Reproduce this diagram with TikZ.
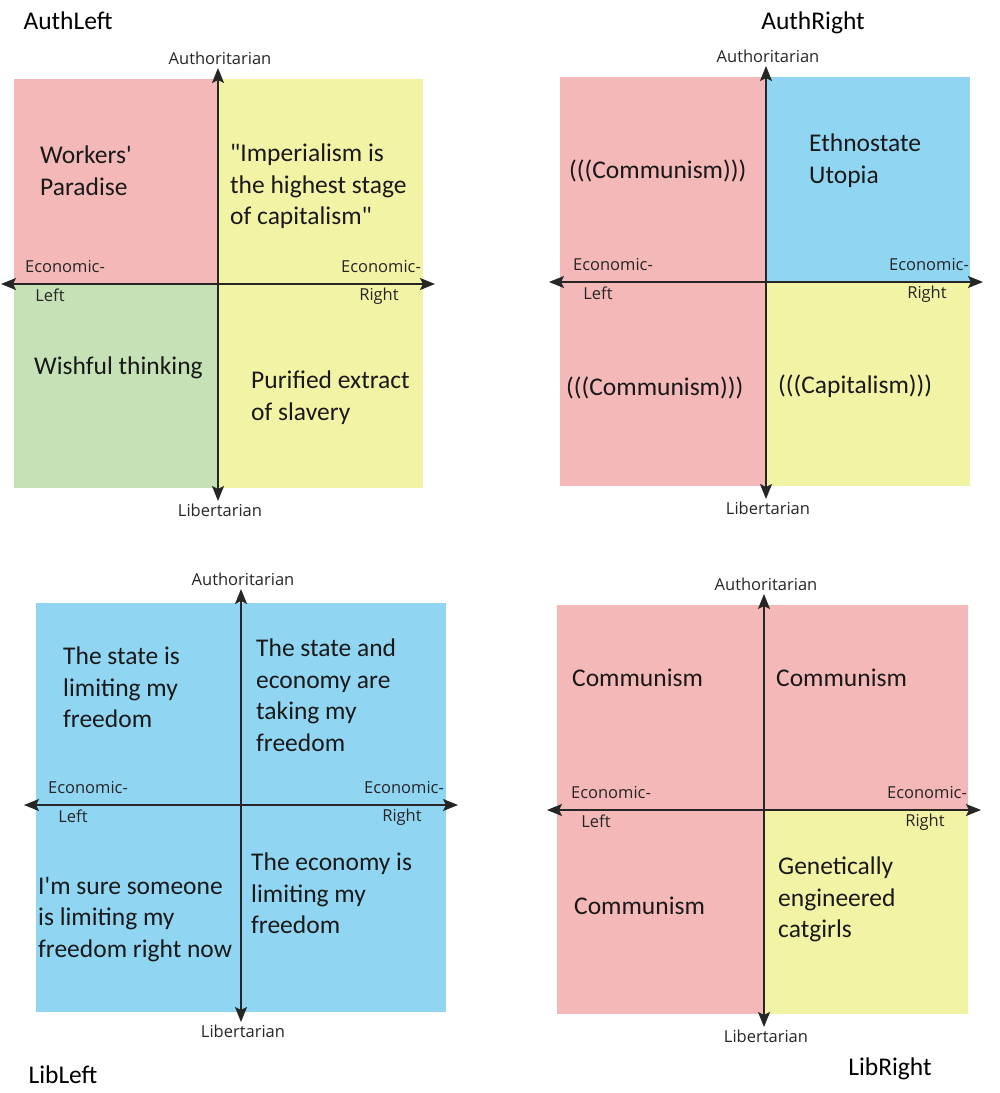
\documentclass[tikz,border=0pt]{standalone}
\usepackage{fontspec}
\setmainfont{Carlito}[Ligatures=TeXOff]
\newfontfamily\axisfont{Open Sans}
\usetikzlibrary{arrows.meta, positioning}
\definecolor{qred}{RGB}{245,184,184}
\definecolor{qyellow}{RGB}{243,243,166}
\definecolor{qgreen}{RGB}{199,225,183}
\definecolor{qblue}{RGB}{144,214,243}
\begin{document}
\begin{tikzpicture}[x=1pt, y=-1pt,
    axis/.style={draw=black!85, line width=1.5pt, {Stealth[length=15pt,width=12pt,inset=3pt]}-{Stealth[length=15pt,width=12pt,inset=3pt]}},
    axlabel/.style={font=\axisfont\fontsize{16.5}{20}\selectfont, text=black!85, inner sep=0pt},
    quadtext/.style={font=\fontsize{25.5}{31.5}\selectfont, align=left, anchor=north west, inner sep=0pt, text=black!90},
    title/.style={font=\fontsize{25.5}{30}\selectfont, inner sep=0pt}]
      \fill[white] (0,0) rectangle (1000,1093);
      \useasboundingbox (0,0) rectangle (1000,1093);

      % AuthLeft
      \fill[qred] (14,79) rectangle (218,284);
      \fill[qyellow] (218,79) rectangle (423,284);
      \fill[qgreen] (14,284) rectangle (218,488);
      \fill[qyellow] (218,284) rectangle (423,488);
      % AuthRight
      \fill[qred] (560,77) rectangle (766,486);
      \fill[qblue] (766,77) rectangle (970,282);
      \fill[qyellow] (766,282) rectangle (970,486);
      % LibLeft
      \fill[qblue] (36,603) rectangle (446,1012);
      % LibRight
      \fill[qred] (557,605) rectangle (968,1014);
      \fill[qyellow] (764,810) rectangle (968,1014);

      \foreach \i/\cx/\cy in {1/218/284, 2/766/282, 3/241/805, 4/764/810} {
        \coordinate (n\i) at (\cx,\cy-216);
        \coordinate (s\i) at (\cx,\cy+217);
        \coordinate (w\i) at (\cx-217,\cy);
        \coordinate (e\i) at (\cx+217,\cy);
        \draw[axis] (n\i) -- (s\i);
        \draw[axis] (w\i) -- (e\i);
        \node[axlabel] (auth\i) at (\cx+2,\cy-226) {Authoritarian};
        \node[axlabel] (lib\i) at (\cx+2,\cy+226) {Libertarian};
        \node[axlabel] (ecl\i) at (\cx-153,\cy-17) {Economic-};
        \node[axlabel] (left\i) at (\cx-168,\cy+11) {Left};
        \node[axlabel] (ecr\i) at (\cx+163,\cy-17) {Economic-};
        \node[axlabel] (right\i) at (\cx+161,\cy+12) {Right};
      }

      \node[title] (authleft) at (68,21) {AuthLeft};
      \node[title] (authright) at (813,23) {AuthRight};
      \node[title] (libleft) at (63,1075) {LibLeft};
      \node[title] (libright) at (890,1069) {LibRight};

      \node[quadtext] (al1) at (40,146) {Workers'\\Paradise};
      \node[quadtext] (al2) at (230,144) {"Imperialism is\\the highest stage\\of capitalism"};
      \node[quadtext] (al3) at (34,357) {Wishful thinking};
      \node[quadtext] (al4) at (251,371) {Purified extract\\of slavery};

      \node[quadtext] (ar1) at (569,160) {(((Communism)))};
      \node[quadtext] (ar2) at (809,134) {Ethnostate\\Utopia};
      \node[quadtext] (ar3) at (566,377) {(((Communism)))};
      \node[quadtext] (ar4) at (778,375) {(((Capitalism)))};

      \node[quadtext] (ll1) at (63,647) {The state is\\limiting my\\freedom};
      \node[quadtext] (ll2) at (256,639) {The state and\\economy are\\taking my\\freedom};
      \node[quadtext] (ll3) at (38,877) {I'm sure someone\\is limiting my\\freedom right now};
      \node[quadtext] (ll4) at (251,853) {The economy is\\limiting my\\freedom};

      \node[quadtext] (lr1) at (572,669) {Communism};
      \node[quadtext] (lr2) at (776,669) {Communism};
      \node[quadtext] (lr3) at (574,897) {Communism};
      \node[quadtext] (lr4) at (778,857) {Genetically\\engineered\\catgirls};
\end{tikzpicture}
\end{document}
